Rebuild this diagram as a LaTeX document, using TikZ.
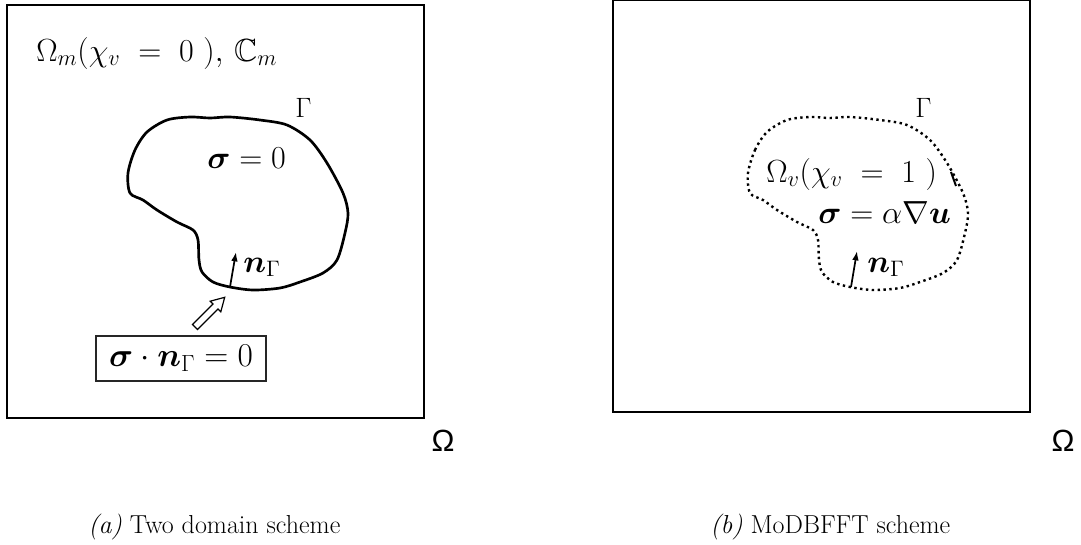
\documentclass[tikz,border=0pt]{standalone}
\usepackage{fix-cm}
\usepackage{amsmath,amssymb}
\usepackage{fontspec}
\newfontfamily\omfont{Liberation Sans}
\usetikzlibrary{arrows.meta}
\newcommand{\blobpts}{(128,173) (135,150) (147,132) (167,120) (190,117) (210,118) (230,117) (260,120) (287,125) (310,140) (327,163) (343,193) (348,213) (345,233) (337,260) (323,273) (300,282) (280,288) (253,290) (230,287) (213,282) (202,272) (199,260) (198,240) (193,230) (177,222) (157,210) (143,200) (130,193)}
\begin{document}
\begin{tikzpicture}[x=0.75pt,y=-0.75pt,
  frame/.style={draw=black,line width=2pt},
  solidblob/.style={draw=black,line width=2pt,line join=round},
  dotblob/.style={draw=black,line width=1.8pt,dash pattern=on 1.8pt off 2.6pt},
  mtxt/.style={inner sep=0pt,anchor=base west,font=\fontsize{24}{28}\selectfont},
  gtxt/.style={inner sep=0pt,anchor=base west,font=\fontsize{21}{24}\selectfont},
  omtxt/.style={inner sep=0pt,font=\omfont\fontsize{23}{26}\selectfont},
  captxt/.style={inner sep=0pt,anchor=base west,font=\fontsize{19.5}{23}\selectfont},
  condbox/.style={draw=black!85,line width=0.9pt,inner sep=0pt,minimum width=127.5pt,minimum height=33.75pt,font=\fontsize{25}{28}\selectfont},
  normarrow/.style={draw=black,line width=1.3pt,-{Latex[length=7pt,width=5pt]}},
  hollow/.style={draw=black,line width=0.9pt,fill=white,line join=miter}
]
\useasboundingbox (0,0) rectangle (1081,544);

% ---------- (a) ----------
\draw[frame] (7,5) rectangle (424,418);
\draw[solidblob] plot[smooth cycle,tension=0.5] coordinates {\blobpts};
\node[mtxt] (oma) at (36,61) {$\Omega_m(\chi_v\;=\;0\ ),\,\mathbb{C}_m$};
\node[gtxt] (ga) at (295,117) {$\Gamma$};
\node[mtxt] (sa) at (207,168) {$\boldsymbol{\sigma}=0$};
\coordinate (nta) at (230,287);
\coordinate (nha) at (236,252);
\draw[normarrow] (nta) -- (nha);
\node[mtxt] (na) at (243,272) {$\boldsymbol{n}_\Gamma$};
\draw[hollow] (197.5,329.5) -- (218,309) -- (220.8,311.8) -- (224.7,297.3) -- (210.2,301.2) -- (213,304) -- (192.5,324.5) -- cycle;
\node[condbox] (ca) at (181,358.5) {$\boldsymbol{\sigma}\cdot\boldsymbol{n}_\Gamma=0$};
\node[omtxt] (Oa) at (443,441) {Ω};
\node[captxt] (capa) at (88,533) {\textit{(a)} Two domain scheme};

% ---------- (b) ----------
\draw[frame] (613,0) rectangle (1030,412);
\begin{scope}[shift={(620,0)}]
\draw[dotblob] plot[smooth cycle,tension=0.5] coordinates {\blobpts};
\end{scope}
\draw[line width=1.5pt] (951,172) -- (956,186);
\node[gtxt] (gb) at (915,117) {$\Gamma$};
\node[mtxt] (ob) at (766,182) {$\Omega_v(\chi_v\;=\;1\ )$};
\node[mtxt] (sb) at (818,223) {$\boldsymbol{\sigma}=\alpha\nabla\boldsymbol{u}$};
\coordinate (ntb) at (851,287);
\coordinate (nhb) at (857,251);
\draw[normarrow] (ntb) -- (nhb);
\node[mtxt] (nb) at (867,272) {$\boldsymbol{n}_\Gamma$};
\node[omtxt] (Ob) at (1063,441) {Ω};
\node[captxt] (capb) at (710,533) {\textit{(b)} MoDBFFT scheme};
\end{tikzpicture}
\end{document}
